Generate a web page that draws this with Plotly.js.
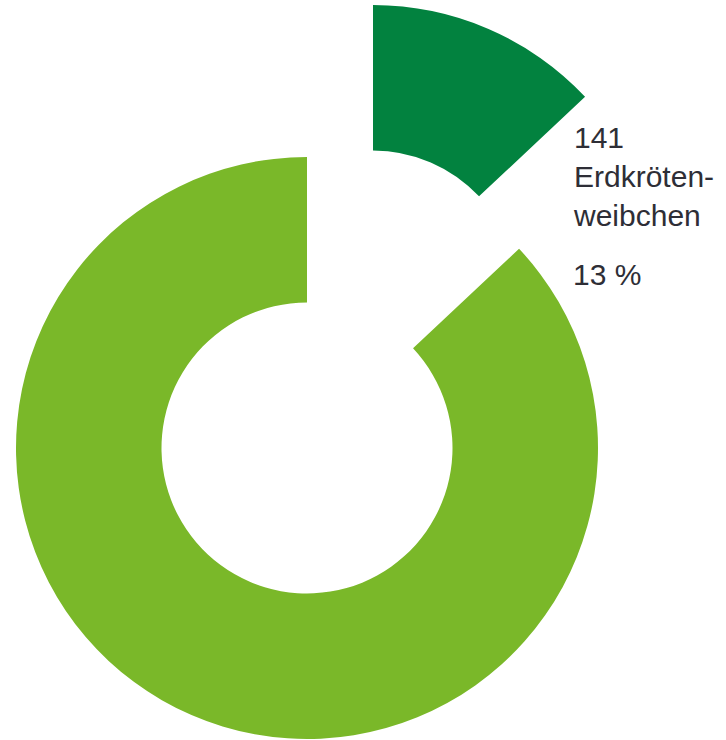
<!DOCTYPE html>
<html>
<head>
<meta charset="utf-8">
<script src="https://cdn.plot.ly/plotly-3.0.1.min.js"></script>
<style>html,body{margin:0;padding:0;background:#fff;}#chart{width:726px;height:740px;}</style>
</head>
<body>
<div id="chart"></div>
<script>
var categories = ['Erdkrötenweibchen', 'Erdkrötenmännchen'];
var counts = [141, 944];
var percents = [13, 87];
var labelLines = ['141', 'Erdkröten-', 'weibchen'];
var colors = ['#02823f', '#7ab829'];

var W = 726, H = 740;
function dom(cx, cy, r) {
  return {x: [(cx - r) / W, (cx + r) / W], y: [1 - (cy + r) / H, 1 - (cy - r) / H]};
}
var R = 291;

var mainPie = {
  type: 'pie', labels: categories, values: counts, sort: false,
  direction: 'clockwise', rotation: 0, hole: 0.5,
  marker: {colors: ['rgba(0,0,0,0)', colors[1]], line: {width: 0}},
  textinfo: 'none', hoverinfo: 'none', domain: dom(307, 448, R)
};
var pulledPie = {
  type: 'pie', labels: categories, values: counts, sort: false,
  direction: 'clockwise', rotation: 0, hole: 0.5,
  marker: {colors: [colors[0], 'rgba(0,0,0,0)'], line: {width: 0}},
  textinfo: 'none', hoverinfo: 'none', domain: dom(373, 296, R)
};

var font = {family: 'Liberation Sans, Arial, sans-serif', size: 30, color: '#2e2e36'};
var layout = {
  width: W, height: H, margin: {l: 0, r: 0, t: 0, b: 0},
  paper_bgcolor: '#fff', showlegend: false,
  annotations: [
    {xref: 'paper', yref: 'paper', x: 571 / W, y: 1 - 119 / H, xanchor: 'left', yanchor: 'top',
     align: 'left', showarrow: false, text: labelLines.join('<br>'), font: font},
    {xref: 'paper', yref: 'paper', x: 571 / W, y: 1 - 256 / H, xanchor: 'left', yanchor: 'top',
     align: 'left', showarrow: false, text: percents[0] + ' %', font: font}
  ]
};
Plotly.newPlot('chart', [mainPie, pulledPie], layout, {staticPlot: true, displayModeBar: false});
</script>
</body>
</html>
